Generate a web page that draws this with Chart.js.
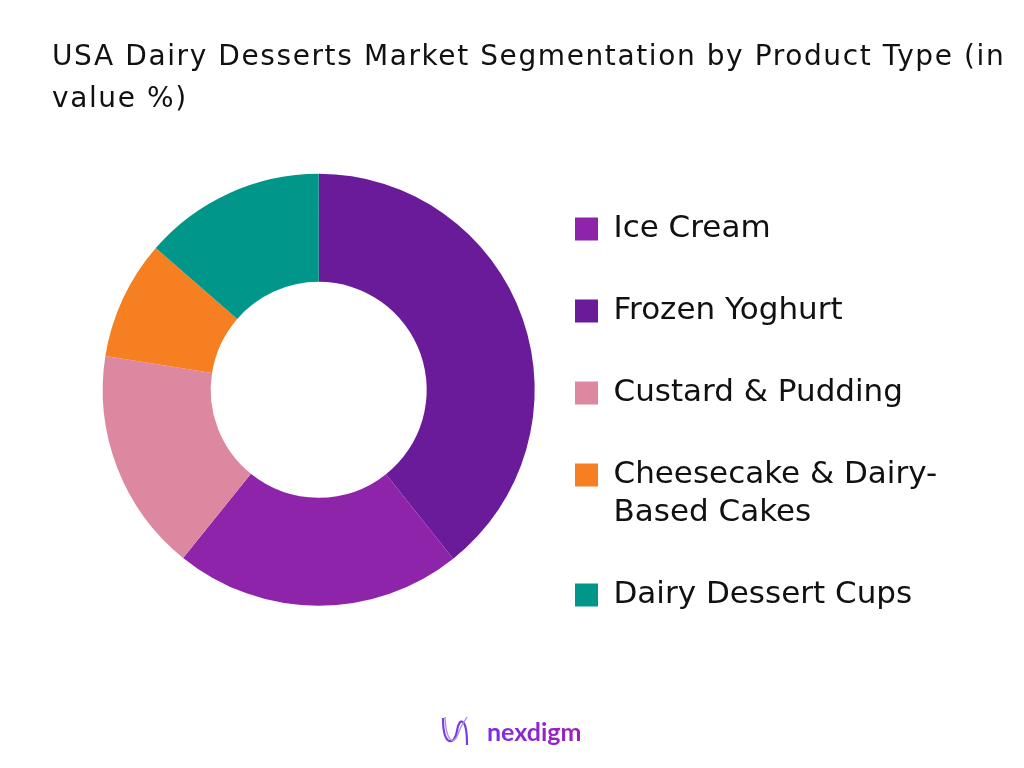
<!DOCTYPE html>
<html>
<head>
<meta charset="utf-8">
<script src="https://cdn.jsdelivr.net/npm/chart.js@4"></script>
<style>
  body { margin: 0; background: #fff; }
  #wrap { position: relative; width: 1024px; height: 768px; overflow: hidden; }
  #chart { position: absolute; left: 0; top: 0; }
  #title {
    position: absolute; left: 52px; top: 35px;
    font-family: "DejaVu Sans", sans-serif; font-size: 28px; line-height: 42px;
    letter-spacing: 1.6px; color: #111; white-space: nowrap;
  }
  #logo { position: absolute; left: 438px; top: 712px; width: 160px; height: 42px; }
  #logo span {
    position: absolute; left: 49px; top: 4px;
    font-family: Lato, sans-serif; font-weight: bold; font-size: 25px;
    background: linear-gradient(90deg, #7b2fe0, #a11fb5);
    -webkit-background-clip: text; background-clip: text; color: transparent;
  }
</style>
</head>
<body>
<div id="wrap">
  <canvas id="chart" width="1024" height="768"></canvas>
  <div id="title">USA Dairy Desserts Market Segmentation by Product Type (in<br>value %)</div>
  <div id="logo">
    <svg width="44" height="42" viewBox="0 0 44 42">
      <path d="M5,6 C5,36 17,33 19,19 C21,5 29,4 29,33" fill="none" stroke="#7a3be0" stroke-width="2.2"/>
      <path d="M7,5 C8,30 16,34 20,22 C24,10 28,8 29,5" fill="none" stroke="#b48df0" stroke-width="1.4"/>
    </svg>
    <span>nexdigm</span>
  </div>
</div>
<script>
// categories in the order the ring is drawn (clockwise from 12 o'clock)
const categories = ['Frozen Yoghurt', 'Ice Cream', 'Custard & Pudding', ['Cheesecake & Dairy-', 'Based Cakes'], 'Dairy Dessert Cups'];
const shares = [39.3, 21.5, 16.7, 8.9, 13.6];
const colors = ['#6a1b9a', '#8e24aa', '#dd88a1', '#f57f21', '#00968a'];
// order of the entries in the legend
const legendRank = [1, 0, 2, 3, 4];

const legendFont = { family: 'DejaVu Sans', size: 31, lineHeight: 38 / 31 };
const legendPad = 44;
const boxSize = 23;

// legend width as Chart.js computes it, so the legend can start at a fixed x
const mctx = document.createElement('canvas').getContext('2d');
mctx.font = legendFont.size + 'px ' + legendFont.family;
const widest = Math.max(...categories.map(c => {
    const t = Array.isArray(c) ? c.reduce((a, b) => a.length > b.length ? a : b) : c;
    return mctx.measureText(t).width;
}));
const legendWidth = legendPad + boxSize + legendFont.size / 2 + widest + 10;
const legendLeft = 531;

new Chart(document.getElementById('chart'), {
    type: 'doughnut',
    data: {
        labels: categories.map(c => Array.isArray(c) ? c : [c]),
        datasets: [{
            data: shares,
            backgroundColor: colors,
            borderWidth: 0,
            radius: 216,
            clip: false
        }]
    },
    options: {
        responsive: false,
        animation: false,
        cutout: '50%',
        layout: {
            padding: { top: 60, bottom: 48.4, left: 106.4, right: 1024 - legendLeft - legendWidth }
        },
        plugins: {
            tooltip: { enabled: false },
            legend: {
                position: 'right',
                align: 'center',
                maxWidth: 1000,
                title: {
                    display: true,
                    text: ' ',
                    padding: { top: 0, bottom: 31.4 },
                    font: { size: 20, lineHeight: 1 }
                },
                labels: {
                    boxWidth: boxSize,
                    boxHeight: boxSize,
                    padding: legendPad,
                    color: '#111',
                    font: legendFont,
                    sort: (a, b) => legendRank[a.index] - legendRank[b.index]
                }
            }
        }
    }
});
</script>
</body>
</html>
